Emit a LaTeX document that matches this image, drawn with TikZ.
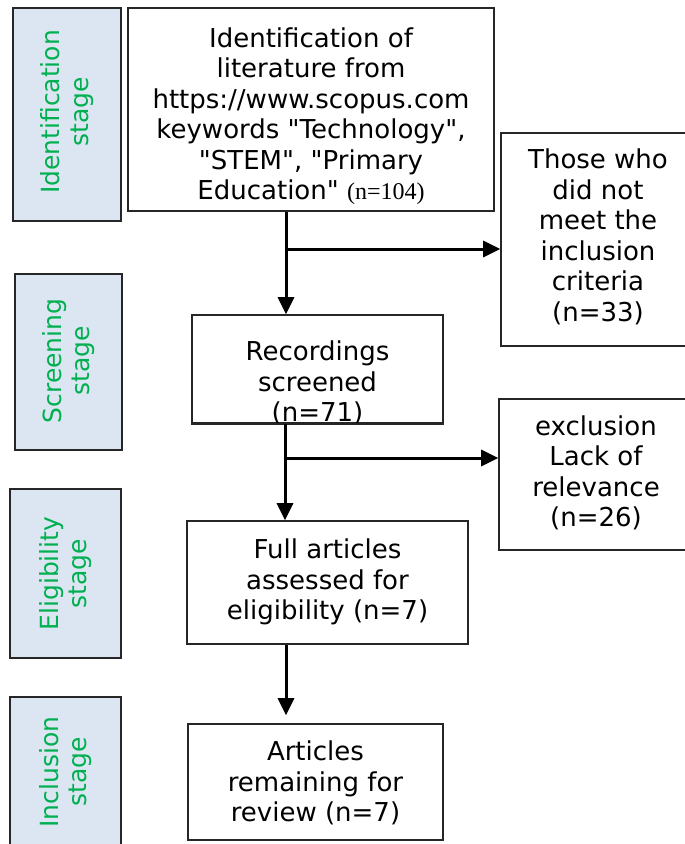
\documentclass[tikz,border=0pt]{standalone}
\usepackage{fontspec}
\setmainfont{DejaVu Sans}[Ligatures=TeXOff]
\newfontfamily\serifnum{Liberation Serif}
\usetikzlibrary{arrows.meta}
\definecolor{stagefill}{RGB}{220,230,242}
\definecolor{stagetext}{RGB}{0,176,80}
\tikzset{
  stagebox/.style={draw=black!85, line width=1.5pt, fill=stagefill},
  stagetxt/.style={rotate=90, text=stagetext, align=center, font=\fontsize{25}{28.5}\selectfont, inner sep=0pt},
  mainbox/.style={draw=black!85, line width=1.6pt, fill=white},
  maintxt/.style={align=center, font=\fontsize{26}{30.5}\selectfont, inner sep=0pt},
  flow/.style={line width=3pt, draw=black},
  flowarr/.style={flow, -{Triangle[length=17pt,width=16pt]}},
}
\begin{document}
\begin{tikzpicture}[x=1pt,y=-1pt]
\useasboundingbox (0,0) rectangle (685,844);
% stage boxes
\draw[stagebox] (13,8) rectangle (121,221);
\node[stagetxt] (s1) at (67,112) {Identification\\stage};
\draw[stagebox] (15,274) rectangle (122,450);
\node[stagetxt] (s2) at (68.5,361) {Screening\\stage};
\draw[stagebox] (10,489) rectangle (121,658);
\node[stagetxt] (s3) at (65.5,573.5) {Eligibility\\stage};
\draw[stagebox] (10,697) rectangle (121,848);
\node[stagetxt] (s4) at (65.5,772) {Inclusion\\stage};
% main boxes
\node[mainbox, minimum width=366pt, minimum height=203pt] (b1) at (311,109.5) {};
\node[maintxt] (t1) at (311,116) {Identification of\\literature from\\https://www.scopus.com\\keywords "Technology",\\"STEM", "Primary\\Education" {\serifnum\fontsize{24}{30}\selectfont(n=104)}};
\node[mainbox, minimum width=251pt, minimum height=108pt] (b2) at (317.5,369) {};
\begin{scope}
\clip (b2.north west) rectangle (b2.south east);
\node[maintxt] (t2) at (317.5,383) {Recordings\\screened\\(n=71)};
\end{scope}
\draw[mainbox, fill=none] (b2.south west) -- (b2.south east);
\node[mainbox, minimum width=281pt, minimum height=123pt] (b3) at (327.5,582.5) {};
\node[maintxt] (t3) at (327.5,582) {Full articles\\assessed for\\eligibility (n=7)};
\node[mainbox, minimum width=255pt, minimum height=116pt] (b4) at (315.5,782) {};
\node[maintxt] (t4) at (315.5,783) {Articles\\remaining for\\review (n=7)};
\node[mainbox, minimum width=194pt, minimum height=213pt] (r1) at (598,239.5) {};
\node[maintxt] (tr1) at (598,237) {Those who\\did not\\meet the\\inclusion\\criteria\\(n=33)};
\node[mainbox, minimum width=194pt, minimum height=151pt] (r2) at (596,474.5) {};
\node[maintxt] (tr2) at (596,473) {exclusion\\Lack of\\relevance\\(n=26)};
% connectors
\coordinate (j1) at (286,249);
\coordinate (j2) at (285,458);
\coordinate (j3) at (286,680);
\draw[flowarr] (b1.south -| j1) -- (b2.north -| j1);
\draw[flowarr] (j1) -- (r1.west |- j1);
\draw[flowarr] (b2.south -| j2) -- (b3.north -| j2);
\draw[flowarr] (j2) -- (r2.west |- j2);
\draw[flowarr] (b3.south -| j3) -- ([yshift=8pt]b4.north -| j3);
\end{tikzpicture}
\end{document}
